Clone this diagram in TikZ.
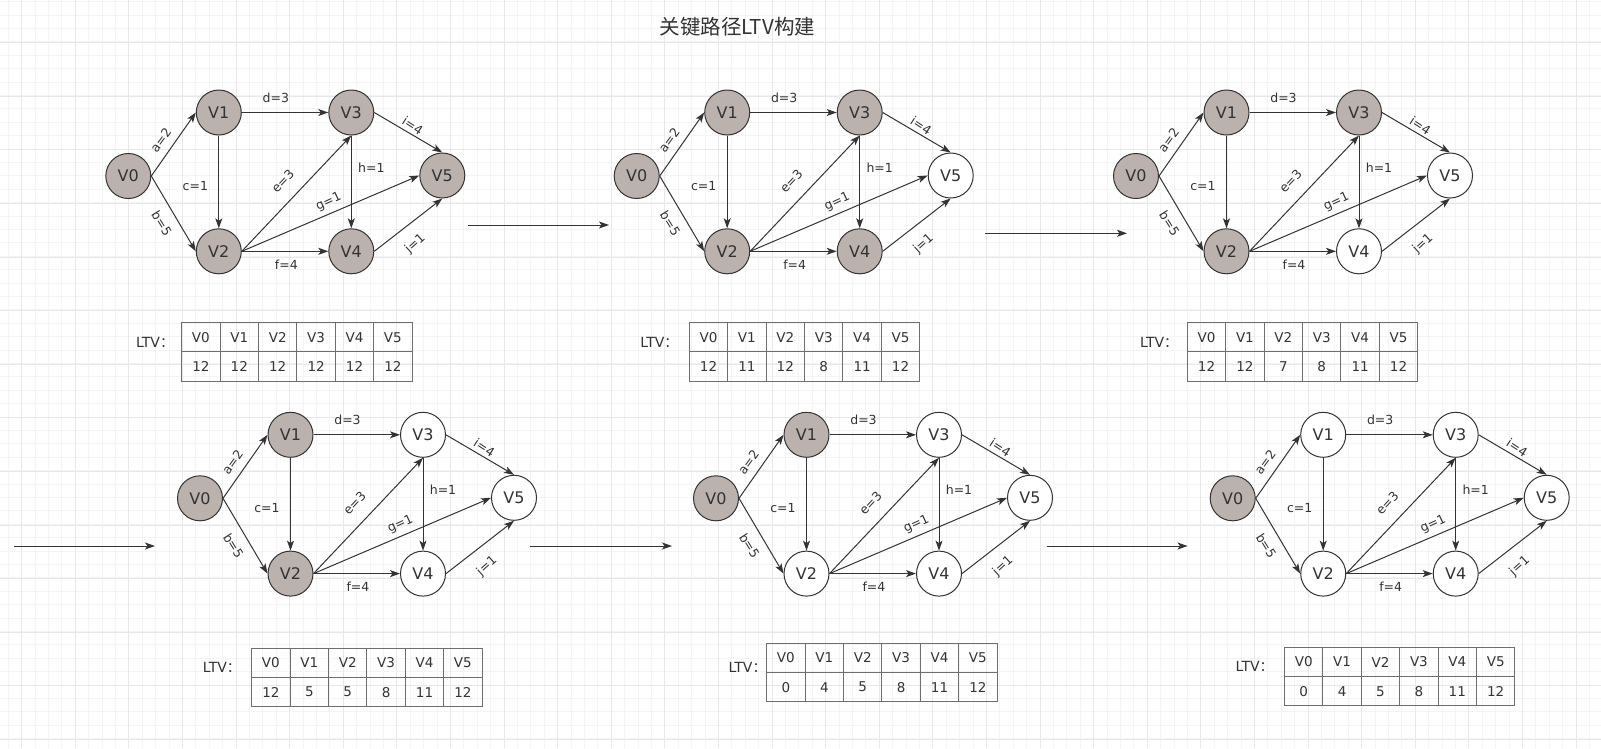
\documentclass[tikz,border=0pt]{standalone}
\usepackage{fontspec}
\setmainfont{DejaVu Sans}
\newfontfamily\cjk{Noto Sans CJK SC}
\usetikzlibrary{arrows.meta}
\definecolor{ink}{HTML}{333333}
\definecolor{nodegray}{HTML}{BBB1AD}
\definecolor{gridminor}{HTML}{F4F4F4}
\definecolor{gridmajor}{HTML}{E8E8E8}
\definecolor{tableline}{HTML}{6E6E6E}
\tikzset{
  vnode/.style={circle, draw=ink, line width=1pt, minimum size=45pt, inner sep=0pt, text=ink, font=\fontsize{16}{19}\selectfont},
  vgray/.style={vnode, fill=nodegray},
  vwhite/.style={vnode, fill=white},
  edge/.style={draw=ink, line width=1pt, -{Stealth[length=10pt,width=7pt,inset=2.5pt]}},
  link/.style={draw=ink, line width=1pt, -{Stealth[length=10pt,width=7pt,inset=2.5pt]}},
  elabel/.style={text=ink, inner sep=0pt, font=\fontsize{12.5}{15}\selectfont},
  tabgrid/.style={draw=tableline, line width=1pt},
  celltext/.style={inner sep=0pt, text=ink, font=\fontsize{13.5}{16}\selectfont},
  ltvlab/.style={anchor=west, inner sep=0pt, text=ink, font=\fontsize{14}{17}\selectfont},
  titlestyle/.style={text=ink, inner sep=0pt, font=\cjk\fontsize{20.5}{24}\selectfont},
  gminor/.style={draw=gridminor, line width=1pt},
  gmajor/.style={draw=gridmajor, line width=1pt},
}
\newcommand{\ltvgraph}[4]{%
\begin{scope}[shift={(#2,#3)}]
\foreach \k/\dx/\dy in {0/0/0,1/90.5/-63.5,2/90.5/75.3,3/223/-63.5,4/223/75.3,5/314/-0.5}{%
  \ifnum\k<#4\relax\def\vst{vgray}\else\def\vst{vwhite}\fi
  \node[\vst] (#1v\k) at (\dx,\dy) {V\k};
}
\draw[edge] (#1v0.east) -- (#1v1.west);
\draw[edge] (#1v0.east) -- (#1v2.west);
\draw[edge] (#1v1.south) -- (#1v2.north);
\draw[edge] (#1v1.east) -- (#1v3.west);
\draw[edge] (#1v2.east) -- (#1v3.south);
\draw[edge] (#1v2.east) -- (#1v4.west);
\draw[edge] (#1v2.east) -- (#1v5.west);
\draw[edge] (#1v3.south) -- (#1v4.north);
\draw[edge] (#1v3.east) -- (#1v5.north);
\draw[edge] (#1v4.east) -- (#1v5.south);
\node[elabel,rotate=54] (#1la) at (32.5,-36) {a=2};
\node[elabel,rotate=-58] (#1lb) at (33.5,47.5) {b=5};
\node[elabel] (#1lc) at (67,10) {c=1};
\node[elabel] (#1ld) at (147.5,-78) {d=3};
\node[elabel,rotate=47] (#1le) at (154.5,5) {e=3};
\node[elabel] (#1lf) at (158,88.5) {f=4};
\node[elabel,rotate=25] (#1lg) at (200.5,26) {g=1};
\node[elabel] (#1lh) at (243,-8.5) {h=1};
\node[elabel,rotate=-33] (#1li) at (284.5,-50.5) {i=4};
\node[elabel,rotate=42] (#1lj) at (287,68) {j=1};
\end{scope}}
\newcommand{\ltvtable}[6]{%
\node[ltvlab] (#1lab) at (#4,#5) {LTV{\cjk ：}};
\begin{scope}[shift={(#2,#3)}]
\draw[tabgrid] (0,0) rectangle (230.4,58.4);
\draw[tabgrid] (0,29.2) -- (230.4,29.2);
\foreach \c in {1,...,5}{\draw[tabgrid] (38.4*\c,0) -- (38.4*\c,58.4);}
\foreach \v [count=\c from 0] in {#6}{%
  \node[celltext] (#1h\c) at (19.2+38.4*\c,14.6) {V\c};
  \node[celltext] (#1d\c) at (19.2+38.4*\c,43.8) {\v};
}
\end{scope}}
\begin{document}
\begin{tikzpicture}[x=1pt,y=-1pt]
\useasboundingbox (0,0) rectangle (1601,748);
\fill[white] (0,0) rectangle (1601,748);
\foreach \i in {0,...,119}{\pgfmathsetmacro\xx{8.3+13.4*\i}\draw[gminor] (\xx,0) -- (\xx,748);}
\foreach \i in {0,...,55}{\pgfmathsetmacro\yy{1.6+13.4*\i}\draw[gminor] (0,\yy) -- (1601,\yy);}
\foreach \i in {0,...,29}{\pgfmathsetmacro\xx{21.7+53.6*\i}\draw[gmajor] (\xx,0) -- (\xx,748);}
\foreach \i in {0,...,13}{\pgfmathsetmacro\yy{42.7+53.6*\i}\draw[gmajor] (0,\yy) -- (1601,\yy);}

\node[titlestyle] (title) at (737.3,26.7) {关键路径LTV构建};

\ltvgraph{ga}{128.3}{176}{6}
\ltvgraph{gb}{636.7}{176}{5}
\ltvgraph{gc}{1136}{176}{4}
\ltvgraph{gd}{200}{498.3}{3}
\ltvgraph{ge}{716}{498.3}{2}
\ltvgraph{gf}{1232.7}{498.3}{1}

\ltvtable{ta}{181.7}{322.7}{135.8}{342}{12,12,12,12,12,12}
\ltvtable{tb}{689.3}{322.7}{640.2}{342}{12,11,12,8,11,12}
\ltvtable{tc}{1187.3}{322.7}{1140}{342.3}{12,12,7,8,11,12}
\ltvtable{td}{251.7}{648.3}{202.7}{667.3}{12,5,5,8,11,12}
\ltvtable{te}{766.7}{643.3}{728.3}{667.3}{0,4,5,8,11,12}
\ltvtable{tf}{1284.5}{647.4}{1235.5}{666.5}{0,4,5,8,11,12}

\coordinate (a1s) at (468,225); \coordinate (a1e) at (609,225);
\coordinate (a2s) at (985,233.3); \coordinate (a2e) at (1127,233.3);
\coordinate (a3s) at (14,546); \coordinate (a3e) at (155,546);
\coordinate (a4s) at (530,546); \coordinate (a4e) at (672,546);
\coordinate (a5s) at (1046.7,546); \coordinate (a5e) at (1187.5,546);
\draw[link] (a1s) -- (a1e);
\draw[link] (a2s) -- (a2e);
\draw[link] (a3s) -- (a3e);
\draw[link] (a4s) -- (a4e);
\draw[link] (a5s) -- (a5e);
\end{tikzpicture}
\end{document}
